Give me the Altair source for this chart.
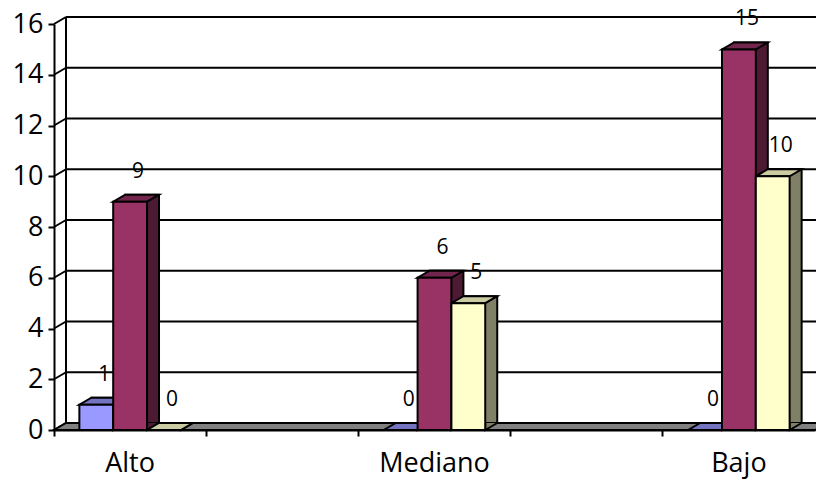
import altair as alt
import pandas as pd

# ---- data ----
categories = ["Alto", "Mediano", "Bajo"]
slots = ["Alto", "gap1", "Mediano", "gap2", "Bajo"]   # empty category slots between groups
series = ["Serie1", "Serie2", "Serie3"]
serie1 = [1, 0, 0]
serie2 = [9, 6, 15]
serie3 = [0, 5, 10]
y_ticks = [0, 2, 4, 6, 8, 10, 12, 14, 16]

front_colors = ["#9999FF", "#993366", "#FFFFCC"]
top_colors = ["#7373BF", "#73264D", "#CCCCA3"]
side_colors = ["#4D4D80", "#4D1A33", "#808066"]

rows = []
for i, c in enumerate(categories):
    for s, vals in zip(series, [serie1, serie2, serie3]):
        rows.append({"cat": c, "series": s, "value": vals[i], "base": 0})
df = pd.DataFrame(rows)
ticks_df = pd.DataFrame({"v": y_ticks})
wall_df = pd.DataFrame({"v": [max(y_ticks)], "v2": [min(y_ticks)]})

# ---- geometry / style ----
W, H = 761, 406
DX, DY = 12, 7
PAD_OUTER = 0.75
step = W / len(slots)
BW = step / (len(series) + 2 * PAD_OUTER)
hw = BW / 2
FONT = "Open Sans"
SW = 2

xscale = alt.Scale(domain=slots, paddingInner=0, paddingOuter=0)
xoff_scale = alt.Scale(type="band", domain=series, paddingInner=0,
                       paddingOuter=PAD_OUTER, range=[0, step])
xoff_scale_back = alt.Scale(type="band", domain=series, paddingInner=0,
                            paddingOuter=PAD_OUTER, range=[DX, step + DX])
yscale = alt.Scale(domain=[0, 16], nice=False, zero=True)

x_axis = alt.Axis(
    title=None, labelAngle=0, bandPosition=0,
    labelExpr="indexof(['gap1','gap2'], datum.value) >= 0 ? '' : datum.value",
    tickSize=6, tickWidth=SW, tickColor="black", domainColor="black", domainWidth=SW,
    labelFont=FONT, labelFontSize=27, labelColor="black", labelPadding=14, grid=False,
)
y_axis = alt.Axis(
    title=None, values=y_ticks, tickSize=6, tickWidth=SW, tickColor="black",
    domainColor="black", domainWidth=SW, labelFont=FONT, labelFontSize=27,
    labelColor="black", labelPadding=5, grid=False,
)

def xenc():
    return alt.X("cat:N", scale=xscale, axis=x_axis, title=None)

def yenc(field):
    return alt.Y(field, scale=yscale, axis=y_axis, title=None)

xoff = alt.XOffset("series:N", scale=xoff_scale)
xoff_back = alt.XOffset("series:N", scale=xoff_scale_back)

def fill_enc(rng):
    return alt.Fill("series:N", scale=alt.Scale(domain=series, range=rng), legend=None)

# back wall gridlines
grid = alt.Chart(ticks_df).mark_rule(yOffset=-DY, color="black", strokeWidth=SW).encode(
    y=yenc("v:Q"), x=alt.value(DX), x2=alt.value(W + DX),
)
# left wall diagonals
diag = alt.Chart(ticks_df).mark_rule(y2Offset=-DY, color="black", strokeWidth=SW).encode(
    y=yenc("v:Q"), y2=alt.Y2("v:Q"), x=alt.value(0), x2=alt.value(DX),
)
# back wall left edge
wall_edge = alt.Chart(wall_df).mark_rule(yOffset=-DY, y2Offset=-DY, color="black", strokeWidth=SW).encode(
    y=yenc("v:Q"), y2=alt.Y2("v2:Q"), x=alt.value(DX),
)
# floor
floor_path = f"M0,0 L{W},0 L{W + DX},{-DY} L{DX},{-DY} Z"
floor = alt.Chart(wall_df).mark_point(
    shape=floor_path, size=4, filled=True, fill="#808080", stroke="black",
    strokeWidth=SW, opacity=1,
).encode(x=alt.value(0), y=yenc("v2:Q"))

# bar side (shifted back rect), uses its own shifted offset scale
back = alt.Chart(df).mark_bar(
    yOffset=-DY, y2Offset=-DY, stroke="black", strokeWidth=SW
).encode(
    x=xenc(), xOffset=xoff_back, y=yenc("value:Q"),
    fill=fill_enc(side_colors),
)
# bottom triangle of side face
tri_path = f"M{hw:.2f},{-DY} L{hw:.2f},0 L{hw + DX:.2f},{-DY}"
tri = alt.Chart(df).mark_point(
    shape=tri_path, size=4, filled=True, stroke="black", strokeWidth=SW, opacity=1
).encode(
    x=xenc(), xOffset=xoff, y=yenc("base:Q"),
    fill=fill_enc(side_colors),
)
# top face
top_path = f"M{-hw:.2f},0 L{hw:.2f},0 L{hw + DX:.2f},{-DY} L{-hw + DX:.2f},{-DY} Z"
top = alt.Chart(df).mark_point(
    shape=top_path, size=4, filled=True, stroke="black", strokeWidth=SW, opacity=1
).encode(
    x=xenc(), xOffset=xoff, y=yenc("value:Q"),
    fill=fill_enc(top_colors),
)
# front face
front = alt.Chart(df).mark_bar(stroke="black", strokeWidth=SW).encode(
    x=xenc(), xOffset=xoff, y=yenc("value:Q"),
    fill=fill_enc(front_colors),
)
labels = alt.Chart(df).mark_text(
    dx=8, dy=-30, font=FONT, fontSize=21, color="black", baseline="middle"
).encode(
    x=xenc(), xOffset=xoff, y=yenc("value:Q"),
    text=alt.Text("value:Q"),
)

chart = alt.layer(
    grid, diag, wall_edge, floor, back, tri, top, front, labels
).resolve_scale(fill="independent", xOffset="independent").properties(
    width=W, height=H,
    padding={"left": 54, "top": 24, "right": 1, "bottom": 49},
    autosize=alt.AutoSizeParams(type="none"),
    background="white",
).configure_view(stroke=None)

chart.save("out.html", embed_options={"renderer": "svg", "actions": False})
